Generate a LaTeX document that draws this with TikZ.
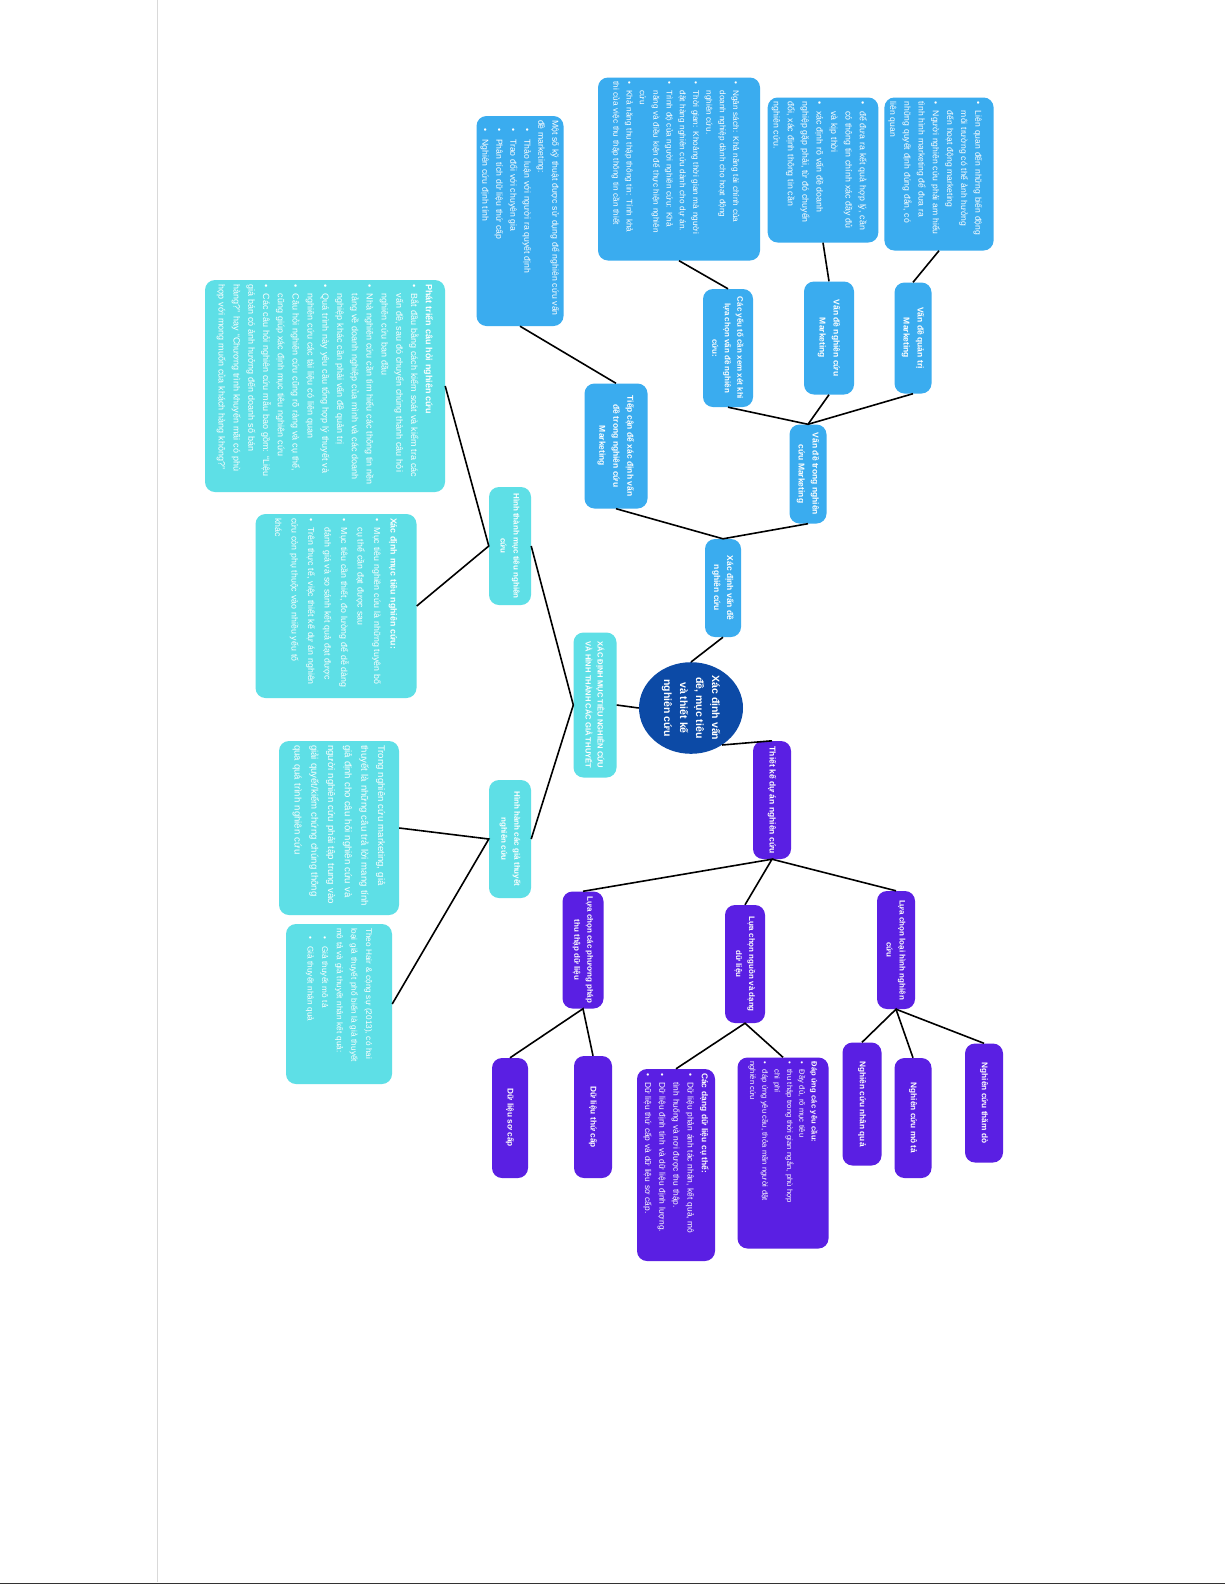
\documentclass[tikz,border=0pt]{standalone}
\usepackage{fontspec}
\setmainfont{Liberation Sans}
\usetikzlibrary{shapes.geometric}

\definecolor{skyblue}{HTML}{3AACEF}
\definecolor{turq}{HTML}{5EDFE6}
\definecolor{mmpurple}{HTML}{5A1FE3}
\definecolor{navy}{HTML}{0C4AA6}

% line breaks and bullets inside the notes
\newcommand\nl{\hfil\break}
\newcommand\bul{\par\hangindent=1.1em\hangafter=1\noindent\makebox[1.1em][l]{\textbullet}}
\newcommand\subbul{\par\hangindent=2.2em\hangafter=1\noindent\hspace*{1em}\makebox[1.2em][l]{\textbullet}}

\tikzset{
  topic/.style={rotate=-90, rounded corners=10pt, text=white, align=center, inner sep=2pt,
    font=\bfseries\fontsize{8.5}{14}\selectfont},
  note/.style={rotate=-90, rounded corners=10pt, text=white, align=left, inner sep=4pt},
  sz/.style 2 args={minimum width=#1pt, minimum height=#2pt},
  branch/.style={line width=1.6pt, black},
}

\begin{document}
\begin{tikzpicture}[x=1pt, y=-1pt]
    \fill[white] (0,0) rectangle (1225,1585);
    \useasboundingbox (0,0) rectangle (1225,1585);
    % page edges
    \draw[black!15, line width=0.8pt] (157,0) -- (157,1582);
    \draw[black!80, line width=1pt] (0,1583) -- (1225,1583);

    % Centre
    \node [ellipse, fill=navy, rotate=-90, minimum width=90pt, minimum height=104pt, inner sep=0pt,
      text=white, align=center, font=\bfseries\fontsize{10.5}{16}\selectfont] (c) at (691,708)
      {Xác định vấn\\đề, mục tiêu\\và thiết kế\\nghiên cứu};

    % Problem branch
    \node [topic, fill=skyblue, sz={98}{36}, font=\bfseries\fontsize{8.5}{13}\selectfont] (b1) at (723,588) {Xác định vấn đề\\nghiên cứu};
    \node [topic, fill=skyblue, sz={99}{37}] (b2) at (808,474) {Vấn đề trong nghiên\\cứu Marketing};
    \node [topic, fill=skyblue, sz={125}{63}] (b3) at (616,446) {Tiếp cận để xác định vấn\\đề trong nghiên cứu\\Marketing};
    \node [topic, fill=skyblue, sz={118}{50}, font=\bfseries\fontsize{8}{12.5}\selectfont] (b4) at (728,348) {Các yếu tố cần xem xét khi\\lựa chọn vấn đề nghiên\\cứu:};
    \node [topic, fill=skyblue, sz={113}{50}] (b5) at (829,338) {Vấn đề nghiên cứu\\Marketing};
    \node [topic, fill=skyblue, sz={111}{37}] (b6) at (913,338) {Vấn đề quản trị\\Marketing};

    \node [note, fill=skyblue, sz={153}{103}, text width=145pt, font=\fontsize{8.6}{14.2}\selectfont] (b7) at (939,174)
      {\bul Liên quan đến những biến động\nl môi trường có thể ảnh hưởng\nl đến hoạt động marketing
       \bul Người nghiên cứu phải am hiểu\nl tình hình marketing để đưa ra\nl những quyết định đúng đắn, có\nl liên quan};
    \node [note, fill=skyblue, sz={145}{106}, text width=137pt, font=\fontsize{8.8}{14.4}\selectfont] (b8) at (823,170)
      {\bul để đưa ra kết quả hợp lý, cần\nl có thông tin chính xác đầy đủ\nl và kịp thời
       \bul xác định rõ vấn đề doanh\nl nghiệp gặp phải, từ đó chuyển\nl đổi, xác định thông tin cần\nl nghiên cứu.};
    \node [note, fill=skyblue, sz={183}{162}, text width=175pt, font=\fontsize{8.2}{13.3}\selectfont] (b9) at (679,169)
      {\bul Ngân sách: Khả năng tài chính của\nl doanh nghiệp dành cho hoạt động\nl nghiên cứu.
       \bul Thời gian: Khoảng thời gian mà người\nl đặt hàng nghiên cứu dành cho dự án.
       \bul Trình độ của người nghiên cứu: Khả\nl năng và điều kiện để thực hiện nghiên\nl cứu
       \bul Khả năng thu thập thông tin: Tính khả\nl thi của việc thu thập thông tin cần thiết};
    \node [note, fill=skyblue, sz={210}{87}, text width=202pt, font=\fontsize{8.7}{14}\selectfont] (b10) at (520,221)
      {\noindent Một số kỹ thuật được sử dụng để nghiên cứu vấn\nl đề marketing:
       \subbul Thảo luận với người ra quyết định
       \subbul Trao đổi với chuyên gia
       \subbul Phân tích dữ liệu thứ cấp
       \subbul Nghiên cứu định tính};

    % Objectives branch
    \node [topic, fill=turq, sz={145}{43}, font=\bfseries\fontsize{7.6}{12}\selectfont] (b11) at (595,705) {XÁC ĐỊNH MỤC TIÊU NGHIÊN CỨU\\VÀ HÌNH THÀNH CÁC GIẢ THUYẾT};
    \node [topic, fill=turq, sz={118}{42}, font=\bfseries\fontsize{8}{13}\selectfont] (b12) at (510,546) {Hình thành mục tiêu nghiên\\cứu};
    \node [topic, fill=turq, sz={118}{42}, font=\bfseries\fontsize{8}{13}\selectfont] (b13) at (510,839) {Hình hành các giả thuyết\\nghiên cứu};

    \node [note, fill=turq, sz={212}{240}, text width=204pt, font=\fontsize{9}{14.8}\selectfont] (b14) at (325,386)
      {\noindent\textbf{Phát triển câu hỏi nghiên cứu}
       \bul Bắt đầu bằng cách kiểm soát và kiểm tra các\nl vấn đề, sau đó chuyển chúng thành câu hỏi\nl nghiên cứu ban đầu
       \bul Nhà nghiên cứu cần tìm hiểu các thông tin nền\nl tảng về doanh nghiệp của mình và các doanh\nl nghiệp khác cần phải vấn đề quản trị
       \bul Quá trình này yêu cầu tổng hợp lý thuyết và\nl nghiên cứu các tài liệu có liên quan
       \bul Câu hỏi nghiên cứu cũng rõ ràng và cụ thể,\nl cũng giúp xác định mục tiêu nghiên cứu
       \bul Các câu hỏi nghiên cứu mẫu bao gồm: “Liệu\nl giá bán có ảnh hưởng đến doanh số bán\nl hàng?” hay “Chương trình khuyến mãi có phù\nl hợp với mong muốn của khách hàng không?”};
    \node [note, fill=turq, sz={184}{161}, text width=176pt, font=\fontsize{8.8}{16.5}\selectfont] (b15) at (336,606)
      {\noindent\textbf{Xác định mục tiêu nghiên cứu:}
       \bul Mục tiêu nghiên cứu là những tuyên bố\nl cụ thể cần đạt được sau
       \bul Mục tiêu cần thiết, đo lường để dễ dàng\nl đánh giá và so sánh kết quả đạt được
       \bul Trên thực tế, việc thiết kế dự án nghiên\nl cứu còn phụ thuộc vào nhiều yếu tố\nl khác};
    \node [note, fill=turq, sz={174}{120}, text width=166pt, font=\fontsize{9.6}{16.7}\selectfont] (b16) at (339,828)
      {\noindent Trong nghiên cứu marketing, giả\nl thuyết là những câu trả lời mang tính\nl giả định cho câu hỏi nghiên cứu và\nl người nghiên cứu phải tập trung vào\nl giải quyết/kiểm chứng chúng thông\nl qua quá trình nghiên cứu};
    \node [note, fill=turq, sz={160}{106}, text width=152pt, font=\fontsize{8.2}{14.6}\selectfont] (b17) at (339,1004)
      {\noindent Theo Hair \& cộng sự (2013), có hai\nl loại giả thuyết phổ biến là giả thuyết\nl mô tả và giả thuyết nhân kết quả:
       \subbul Giả thuyết mô tả
       \subbul Giả thuyết nhân quả};

    % Design branch
    \node [topic, fill=mmpurple, sz={118}{38}] (b18) at (772,800) {Thiết kế dự án nghiên cứu};
    \node [topic, fill=mmpurple, sz={117}{41}, font=\bfseries\fontsize{8}{13}\selectfont] (b19) at (583,950) {Lựa chọn các phương pháp\\thu thập dữ liệu};
    \node [topic, fill=mmpurple, sz={118}{40}, font=\bfseries\fontsize{8}{13}\selectfont] (b20) at (745,964) {Lựa chọn nguồn và dạng\\dữ liệu};
    \node [topic, fill=mmpurple, sz={118}{38}, font=\bfseries\fontsize{8}{13}\selectfont] (b21) at (896,950) {Lựa chọn loại hình nghiên\\cứu};
    \node [topic, fill=mmpurple, sz={120}{36}, font=\bfseries\fontsize{8.3}{12}\selectfont] (b22) at (510,1118) {Dữ liệu sơ cấp};
    \node [topic, fill=mmpurple, sz={122}{38}, font=\bfseries\fontsize{8.3}{12}\selectfont] (b23) at (593,1117) {Dữ liệu thứ cấp};
    \node [note, fill=mmpurple, sz={192}{78}, text width=184pt, font=\fontsize{8.4}{14.2}\selectfont] (b24) at (676,1165)
      {\noindent\textbf{Các dạng dữ liệu cụ thể:}
       \bul Dữ liệu phản ánh tác nhân, kết quả, mô\nl tình huống và nơi được thu thập.
       \bul Dữ liệu định tính và dữ liệu định lượng.
       \bul Dữ liệu thứ cấp và dữ liệu sơ cấp.};
    \node [note, fill=mmpurple, sz={191}{91}, text width=183pt, font=\fontsize{7.6}{12.3}\selectfont] (b25) at (783,1153)
      {\noindent\textbf{Đáp ứng các yêu cầu:}
       \bul Đầy đủ, rõ mục tiêu
       \bul thu thập trong thời gian ngắn, phù hợp\nl chi phí
       \bul đáp ứng yêu cầu, thỏa mãn người đặt\nl nghiên cứu};
    \node [topic, fill=mmpurple, sz={123}{39}, font=\bfseries\fontsize{8.3}{12}\selectfont] (b26) at (862,1104) {Nghiên cứu nhân quả};
    \node [topic, fill=mmpurple, sz={120}{37}, font=\bfseries\fontsize{8.3}{12}\selectfont] (b27) at (913,1118) {Nghiên cứu mô tả};
    \node [topic, fill=mmpurple, sz={119}{38}, font=\bfseries\fontsize{8.3}{12}\selectfont] (b28) at (984,1103) {Nghiên cứu thăm dò};

    % Connectors
    \draw[branch] (c.west) -- (b1.east);
    \draw[branch] (b3.east) -- (b1.west) -- (b2.east);
    \draw[branch] (b4.east) -- (b2.west) -- (b5.east);
    \draw[branch] (b2.west) -- (b6.east);
    \draw[branch] (b3.west) -- (b10.east);
    \draw[branch] (b4.west) -- (b9.east);
    \draw[branch] (b5.west) -- (b8.east);
    \draw[branch] (b6.west) -- (b7.east);

    \draw[branch] (c.south) -- (b11.north);
    \draw[branch] (b12.north) -- (b11.south) -- (b13.north);
    \draw[branch] (b14.north) -- (b12.south) -- (b15.north);
    \draw[branch] (b16.north) -- (b13.south) -- (b17.north);

    \draw[branch] (c.40) -- (b18.west);
    \draw[branch] (b19.west) -- (b18.east) -- (b20.west);
    \draw[branch] (b18.east) -- (b21.west);
    \draw[branch] (b22.west) -- (b19.east) -- (b23.west);
    \draw[branch] (b24.west) -- (b20.east) -- (b25.west);
    \draw[branch] (b26.west) -- (b21.east) -- (b27.west);
    \draw[branch] (b21.east) -- (b28.west);
\end{tikzpicture}
\end{document}
